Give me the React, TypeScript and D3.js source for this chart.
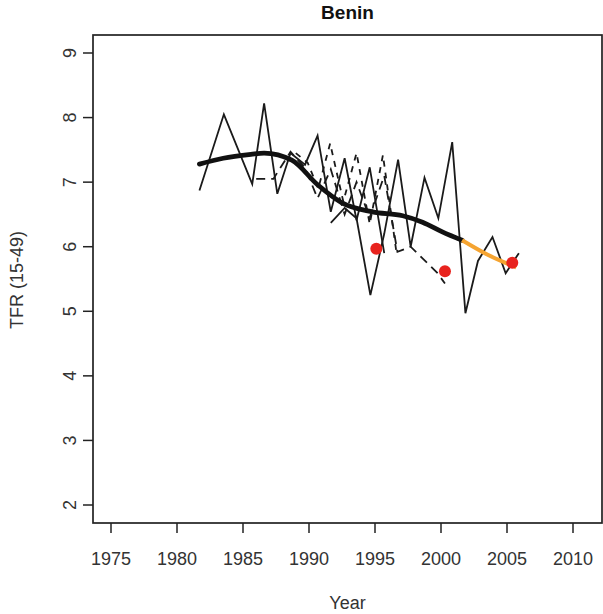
import React from "react";
import * as d3 from "d3";

// ---- data ----
const xTicks = [1975, 1980, 1985, 1990, 1995, 2000, 2005, 2010];
const yTicks = [2, 3, 4, 5, 6, 7, 8, 9];

// solid series 1 (older survey)
const s1Years = [1981.7, 1983.55, 1985.7, 1986.6, 1987.6, 1988.6, 1989.7, 1990.65, 1991.65, 1992.7, 1993.6, 1994.6, 1995.7];
const s1Vals = [6.87, 8.05, 6.97, 8.22, 6.82, 7.45, 7.27, 7.72, 6.54, 7.37, 6.41, 7.23, 5.9];

// solid series 2 (recent survey)
const s2Years = [1991.65, 1992.7, 1993.6, 1994.65, 1995.7, 1996.75, 1997.7, 1998.75, 1999.8, 2000.85, 2001.85, 2002.8, 2003.9, 2004.9, 2005.9];
const s2Vals = [6.37, 6.6, 6.44, 5.25, 6.2, 7.35, 6.0, 7.07, 6.44, 7.62, 4.97, 5.78, 6.15, 5.59, 5.9];

// dashed series 1
const d1Years = [1986.0, 1987.3, 1988.6, 1989.7, 1990.65, 1991.65, 1992.7, 1993.6, 1994.6, 1995.7, 1996.7, 1997.7, 1998.7, 1999.7, 2000.3];
const d1Vals = [7.05, 7.05, 7.47, 7.22, 6.75, 7.2, 6.5, 7.0, 6.45, 7.1, 5.92, 6.0, 5.8, 5.6, 5.43];

// dashed series 2
const d2Years = [1989.0, 1989.9, 1990.7, 1991.6, 1992.6, 1993.6, 1994.6, 1995.6, 1996.6];
const d2Vals = [7.45, 7.3, 6.9, 7.6, 6.7, 7.45, 6.35, 7.42, 5.95];

// smoothed estimate
const fitYears = [1981.7, 1983.5, 1985.6, 1986.6, 1988.7, 1990.65, 1992.5, 1994.8, 1997.1, 1998.6, 2000.1, 2001.6];
const fitVals = [7.28, 7.37, 7.43, 7.45, 7.34, 6.96, 6.68, 6.54, 6.48, 6.38, 6.23, 6.1];

// projection
const projYears = [2001.6, 2003.5, 2005.7];
const projVals = [6.1, 5.88, 5.68];

// point estimates
const dotYears = [1995.1, 2000.3, 2005.4];
const dotVals = [5.97, 5.62, 5.75];

const W = 603;
const H = 614;
const left = 93;
const right = 602;
const top = 35;
const bottom = 523;

export default function App() {
  const x = d3.scaleLinear().domain([1975, 2010]).range([111, 573]);
  const y = d3.scaleLinear().domain([2, 9]).range([505, 53]);
  const line = d3
    .line<[number, number]>()
    .x((d) => x(d[0]))
    .y((d) => y(d[1]));
  const smooth = d3
    .line<[number, number]>()
    .x((d) => x(d[0]))
    .y((d) => y(d[1]))
    .curve(d3.curveMonotoneX);
  const zip = (a: number[], b: number[]) => a.map((v, i) => [v, b[i]] as [number, number]);
  const font = "'Liberation Sans', Arial, Helvetica, sans-serif";
  const txt = "#333";

  return (
    <svg width={W} height={H} style={{ position: "absolute", left: 0, top: 0 }} fontFamily={font}>
      <rect x={0} y={0} width={W} height={H} fill="#fff" />
      <text x={(left + right) / 2} y={19} textAnchor="middle" fontWeight="bold" fontSize={19} fill="#111">
        Benin
      </text>
      {/* data lines */}
      <g fill="none" stroke="#1a1a1a" strokeWidth={1.8} strokeLinejoin="miter">
        <path d={line(zip(s1Years, s1Vals)) || ""} />
        <path d={line(zip(s2Years, s2Vals)) || ""} />
        <path d={line(zip(d1Years, d1Vals)) || ""} strokeDasharray="9,6" />
        <path d={line(zip(d2Years, d2Vals)) || ""} strokeDasharray="6,6" />
      </g>
      <path d={smooth(zip(fitYears, fitVals)) || ""} fill="none" stroke="#111" strokeWidth={4.8} strokeLinecap="round" />
      <path d={smooth(zip(projYears, projVals)) || ""} fill="none" stroke="#f5a431" strokeWidth={4} strokeLinecap="butt" />
      {dotYears.map((yr, i) => (
        <circle key={i} cx={x(yr)} cy={y(dotVals[i])} r={6} fill="#e8231e" />
      ))}
      {/* box */}
      <rect x={left} y={top} width={right - left} height={bottom - top} fill="none" stroke="#222" strokeWidth={1.7} />
      {/* x axis */}
      {xTicks.map((t) => (
        <g key={t}>
          <line x1={x(t)} x2={x(t)} y1={bottom} y2={bottom + 10} stroke="#222" strokeWidth={1.5} />
          <text x={x(t)} y={565} textAnchor="middle" fontSize={18} fill={txt}>
            {t}
          </text>
        </g>
      ))}
      {yTicks.map((t) => (
        <g key={t}>
          <line x1={left} x2={left - 10} y1={y(t)} y2={y(t)} stroke="#222" strokeWidth={1.5} />
          <text
            transform={`translate(${76},${y(t)}) rotate(-90)`}
            textAnchor="middle"
            fontSize={18}
            fill={txt}
          >
            {t}
          </text>
        </g>
      ))}
      <text x={(left + right) / 2} y={609} textAnchor="middle" fontSize={18} fill={txt}>
        Year
      </text>
      <text transform={`translate(${23},${280}) rotate(-90)`} textAnchor="middle" fontSize={18} fill={txt}>
        TFR (15-49)
      </text>
    </svg>
  );
}
